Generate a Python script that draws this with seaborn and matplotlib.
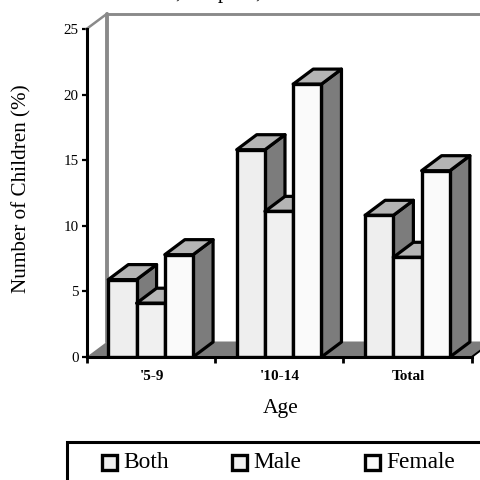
import matplotlib
matplotlib.use("Agg")
import matplotlib.pyplot as plt
import pandas as pd
import seaborn as sns
from matplotlib.patches import Polygon, Rectangle

ages = ["'5-9", "'10-14", "Total"]
sexes = ["Both", "Male", "Female"]
both = [5.9, 15.8, 10.8]
male = [4.1, 11.1, 7.6]
female = [7.8, 20.8, 14.2]
y_ticks = [0, 5, 10, 15, 20, 25]

FRONT = {"Both": "#eeeeee", "Male": "#f0f0f0", "Female": "#fafafa"}
TOP = "#b4b4b4"
SIDE = "#7c7c7c"
WALL = "#8a8a8a"
W, H = 481, 480

sns.set_theme(style="white")
plt.rcParams["font.family"] = ["Liberation Serif", "DejaVu Serif"]

fig = plt.figure(figsize=(W / 100, H / 100), dpi=100)
ax = fig.add_axes([86.5 / W, 1 - 357 / H, (471.7 - 86.5) / W, (357 - 29) / H])

table = pd.DataFrame({
    "Age": ages * 3,
    "Sex": [s for s in sexes for _ in ages],
    "Value": both + male + female,
})
sns.barplot(data=table, x="Age", y="Value", hue="Sex", order=ages, hue_order=sexes,
            palette=FRONT, width=0.66, gap=0, dodge=True, saturation=1, errorbar=None,
            edgecolor="black", linewidth=2.4, legend=False, ax=ax)
ax.set_xlim(-0.5, 2.5)
ax.set_ylim(0, 25)

# Oblique depth of the extruded boxes and of the room behind them, in data units.
dx = 20 / 128.4
dy = 15 / 13.12
room_dx = 20.8 / 128.4
room_dy = 15.5 / 13.12


def depth_faces(x0, x1, h, z):
    """Draw the top and right faces of one extruded bar."""
    side = [(x1, 0), (x1 + dx, dy), (x1 + dx, h + dy), (x1, h)]
    top = [(x0, h), (x0 + dx, h + dy), (x1 + dx, h + dy), (x1, h)]
    for pts, col in ((side, SIDE), (top, TOP)):
        ax.add_patch(Polygon(pts, closed=True, fc=col, ec="black", lw=2.3,
                             joinstyle="round", clip_on=False, zorder=z))


# Left-to-right stacking lets each bar hide the depth faces of the one before it.
bars = [p for p in ax.patches if p.get_height() > 0]
for rank, bar in enumerate(sorted(bars, key=lambda p: p.get_x())):
    z = 3 + rank * 0.1
    bar.set_zorder(z + 0.05)
    depth_faces(bar.get_x(), bar.get_x() + bar.get_width(), bar.get_height(), z)

# Floor and back wall of the room.
x_left, x_right = -0.5, 2.5
ax.add_patch(Polygon([(x_left, 0), (x_left + room_dx, room_dy),
                      (x_right + room_dx, room_dy), (x_right, 0)],
                     closed=True, fc=SIDE, ec="none", clip_on=False, zorder=1))
ax.plot([x_right, x_right + room_dx], [0, room_dy], color="black", lw=1.4,
        clip_on=False, zorder=1.5)
ax.plot([x_left, x_left + room_dx], [25, 25 + room_dy], color=WALL, lw=1.8,
        clip_on=False, zorder=2)
ax.plot([x_left + room_dx, x_right + 0.2], [25 + room_dy, 25 + room_dy], color=WALL, lw=2.1,
        clip_on=False, zorder=2)
ax.plot([x_left + room_dx, x_left + room_dx], [room_dy, 25 + room_dy], color=WALL, lw=2.8,
        clip_on=False, zorder=2)

for name in ("top", "right"):
    ax.spines[name].set_visible(False)
for name in ("left", "bottom"):
    ax.spines[name].set_color("black")
    ax.spines[name].set_linewidth(2.2)
    ax.spines[name].set_zorder(8)

ax.set_yticks(y_ticks)
ax.set_xticks([-0.5, 0.5, 1.5, 2.5])
ax.set_xticklabels([])
ax.tick_params(axis="y", left=True, length=3.8, width=1.6, color="black",
               labelsize=10.8, pad=2, labelcolor="black")
ax.tick_params(axis="x", bottom=True, length=4.2, width=2, color="black")
for i, lab in enumerate(ages):
    ax.annotate(lab, xy=(i, 0), xycoords=("data", "axes fraction"), xytext=(1, -19),
                textcoords="offset pixels", ha="center", va="center", fontsize=11,
                fontweight="bold", color="black")
ax.set_xlabel("")
ax.set_ylabel("")

fig.text(22 / W, 1 - 189 / H, "Number of Children (%)", rotation=90, ha="center",
         va="center", fontsize=15.2, color="black")
fig.text(280.5 / W, 1 - 408 / H, "Age", ha="center", va="center", fontsize=15.5, color="black")

# Heading sits above the canvas, so only its descenders reach the top edge.
for px, glyph in zip([178, 223, 258], [",", "p", ","]):
    fig.text(px / W, 1 + 2 / H, glyph, ha="center", va="baseline", fontsize=15, color="black")

# Legend frame runs off the right and bottom edges.
fig.add_artist(Rectangle((67 / W, 1 - 490 / H), 1, 48 / H, transform=fig.transFigure,
                         fc="white", ec="black", lw=2.2, clip_on=False))
for name, px in zip(sexes, [102, 232, 365]):
    fig.add_artist(Rectangle((px / W, 1 - 469.5 / H), 15 / W, 15 / H, transform=fig.transFigure,
                             fc=FRONT[name], ec="black", lw=2.4))
    fig.text((px + 21) / W, 1 - 463 / H, name, ha="left", va="center", fontsize=16.8, color="black")

fig.savefig("out.png", dpi=100)
